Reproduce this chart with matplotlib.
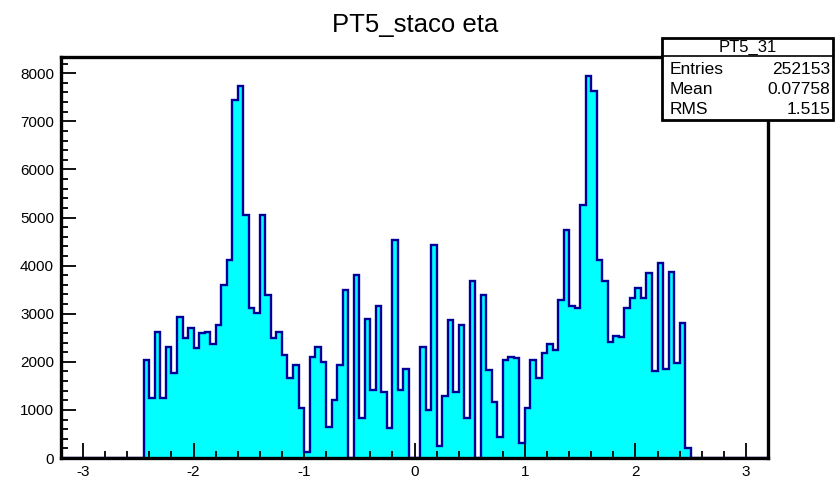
import numpy as np
import matplotlib
matplotlib.use('Agg')
import matplotlib.pyplot as plt
from matplotlib.patches import Rectangle
from matplotlib.ticker import MultipleLocator

plt.rcParams['font.family'] = ['Liberation Sans', 'DejaVu Sans']
plt.rcParams['axes.unicode_minus'] = False

# histogram binning: 128 bins of 0.05 over [-3.2, 3.2]
N_BINS = 128
ETA_MIN, ETA_MAX = -3.2, 3.2

# filled bins start at eta = -2.45 and run to 2.50
FIRST_FILLED = -2.45
counts = [
    2040, 1240, 2630, 1240, 2310, 1760, 2940, 2490, 2700, 2280, 2590, 2630,
    2380, 2770, 3600, 4120,
    7440, 7730, 5050, 3110, 3010, 5050, 3390, 2490, 2630, 2140, 1660, 1930,
    1030, 130, 2110, 2310, 2000,
    650, 1210, 1930, 3490, 0, 3800, 830, 2900, 1410, 3150, 1380, 620, 4530,
    1410, 1860, 0, 0,
    2310, 1000, 4430, 240, 1280, 2870, 1380, 2770, 830, 3670, 0, 3390, 1830,
    1170, 440, 2040, 2110,
    2070, 310, 1030, 2040, 1660, 2180, 2380, 2250, 3290, 4740, 3150, 3120,
    5260, 7940, 7630, 4120, 3670,
    2420, 2540, 2510, 3110, 3320, 3530, 3320, 3840, 1800, 4050, 1860, 3870,
    1970, 2800, 200,
]

hist_name = 'PT5_31'
title = 'PT5_staco eta'
stat_labels = ['Entries', 'Mean', 'RMS']
stat_values = ['252153', '0.07758', '1.515']

edges = np.linspace(ETA_MIN, ETA_MAX, N_BINS + 1)
values = np.zeros(N_BINS)
i0 = int(round((FIRST_FILLED - ETA_MIN) / 0.05))
values[i0:i0 + len(counts)] = counts

W, H = 835, 479
fig = plt.figure(figsize=(W / 100, H / 100), dpi=100)
ax = fig.add_axes([61 / W, (H - 458) / H, (768 - 61) / W, (458 - 57) / H])

ax.stairs(values, edges, fill=True, color='#00ffff', zorder=1)
ax.stairs(values, edges, color='#000099', linewidth=1.7, zorder=2)

ax.set_xlim(ETA_MIN, ETA_MAX)
ax.set_ylim(0, 1.05 * max(counts))

ax.xaxis.set_major_locator(MultipleLocator(1))
ax.xaxis.set_minor_locator(MultipleLocator(0.2))
ax.yaxis.set_major_locator(MultipleLocator(1000))
ax.yaxis.set_minor_locator(MultipleLocator(200))
ax.tick_params(which='both', direction='in', top=False, right=False,
               labelsize=11, color='black', width=1.3)
ax.tick_params(which='major', length=11)
ax.tick_params(which='minor', length=5)
ax.tick_params(axis='x', pad=5)
ax.tick_params(axis='y', pad=5)

for s in ax.spines.values():
    s.set_linewidth(2.4)
    s.set_color('black')
    s.set_zorder(5)

fig.text(415 / W, (H - 25) / H, title, ha='center', va='center', fontsize=18.5)

# stats box
bx0, bx1 = 662 / W, 833 / W
by_top, by_bot = (H - 38) / H, (H - 120) / H
by_sep = (H - 56) / H
fig.patches.append(Rectangle((bx0, by_bot), bx1 - bx0, by_top - by_bot,
                             transform=fig.transFigure, facecolor='white',
                             edgecolor='black', linewidth=2.0, zorder=10))
fig.lines.append(plt.Line2D([bx0, bx1], [by_sep, by_sep],
                            transform=fig.transFigure, color='black',
                            linewidth=1.2, zorder=11))
fig.text((bx0 + bx1) / 2, (H - 47) / H, hist_name, ha='center', va='center',
         fontsize=12, zorder=12)
for k, (lab, val) in enumerate(zip(stat_labels, stat_values)):
    y = (H - (70 + 20 * k)) / H
    fig.text(670 / W, y, lab, ha='left', va='center', fontsize=12.5, zorder=12)
    fig.text(830 / W, y, val, ha='right', va='center', fontsize=12.5, zorder=12)

fig.savefig('out.png', dpi=100)
